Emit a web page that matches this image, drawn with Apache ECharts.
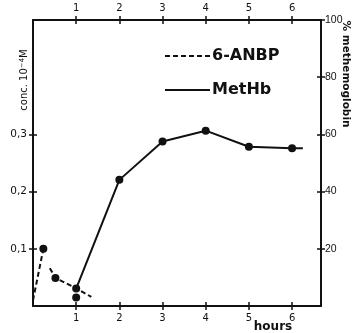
<!DOCTYPE html>
<html>
<head>
<meta charset="utf-8">
<script src="https://cdn.jsdelivr.net/npm/echarts@6/dist/echarts.min.js"></script>
<style>
html,body{margin:0;padding:0;background:#fff;}
#c{width:353px;height:333px;}
</style>
</head>
<body>
<div id="c"></div>
<script>
// ---- data ----
const hourTicks = [1, 2, 3, 4, 5, 6];
const concTicks = [0.1, 0.2, 0.3];
const pctTicks = [20, 40, 60, 80, 100];
// 6-ANBP concentration (10^-4 M), dashed
const anbpRiseHours = [0.0, 0.24];
const anbpRiseConc = [0.01, 0.1];
const anbpDecayHours = [0.39, 0.52, 1.0, 1.35];
const anbpDecayConc = [0.066, 0.049, 0.031, 0.016];
const anbpPointHours = [1.0];
const anbpPointConc = [0.015];
// MetHb (% methemoglobin), solid
const methbHours = [1, 2, 3, 4, 5, 6, 6.25];
const methbPct = [6.1, 44.1, 57.5, 61.3, 55.7, 55.2, 55.2];

const ink = '#111';
const font = 'DejaVu Sans';
const narrow = 'Liberation Sans';
const X_MAX = 6.67;

function pairs(xs, ys, marked) {
  return xs.map((x, i) => ({value: [x, ys[i]], symbol: marked(i) ? 'circle' : 'none'}));
}

function xAx(pos, inside, labels) {
  return {
    type: 'value', position: pos, min: 0, max: X_MAX,
    axisLine: {show: !inside, onZero: false, lineStyle: {color: ink, width: 2}},
    axisTick: {show: true, inside: inside, length: 4, customValues: hourTicks, lineStyle: {color: ink, width: 1.5}},
    axisLabel: {show: labels, customValues: hourTicks, margin: 7, color: ink, fontFamily: font, fontSize: 10},
    splitLine: {show: false}
  };
}
function yAx(pos, inside, labels, max, ticks, fmt, margin, fam) {
  return {
    type: 'value', position: pos, min: 0, max: max,
    axisLine: {show: !inside, onZero: false, lineStyle: {color: ink, width: 2}},
    axisTick: {show: true, inside: inside, length: 4, customValues: ticks, lineStyle: {color: ink, width: 1.5}},
    axisLabel: {show: labels, customValues: ticks, margin: margin, color: ink, fontFamily: fam, fontSize: 10.5, formatter: fmt},
    splitLine: {show: false}
  };
}

const dashIcon = 'path://M0,0h5v2h-5zM8,0h5v2h-5zM16,0h5v2h-5zM24,0h5v2h-5zM32,0h5v2h-5zM40,0h5v2h-5z';
const solidIcon = 'path://M0,0h45v2h-45z';

const chart = echarts.init(document.getElementById('c'), null, {renderer: 'canvas'});
chart.setOption({
  animation: false,
  backgroundColor: '#fff',
  grid: {left: 33, right: 32, top: 20, bottom: 27},
  xAxis: [
    xAx('bottom', false, true),
    xAx('bottom', true, false),
    xAx('top', false, true),
    xAx('top', true, false)
  ],
  yAxis: [
    yAx('left', false, true, 0.5, concTicks, v => String(v).replace('.', ','), 6, font),
    yAx('left', true, false, 0.5, concTicks, null, 6, font),
    yAx('right', false, true, 100, pctTicks, null, 4, narrow),
    yAx('right', true, false, 100, pctTicks, null, 4, narrow)
  ],
  legend: {
    orient: 'vertical', left: 165, top: 48, padding: 0, itemGap: 18,
    itemWidth: 45, itemHeight: 2, selectedMode: false,
    textStyle: {color: ink, fontFamily: font, fontSize: 16, fontWeight: 'bold', padding: [0, 0, 0, -3]},
    data: [
      {name: '6-ANBP', icon: dashIcon},
      {name: 'MetHb', icon: solidIcon}
    ]
  },
  series: [
    {
      name: '6-ANBP', type: 'line', xAxisIndex: 0, yAxisIndex: 0,
      data: pairs(anbpRiseHours, anbpRiseConc, i => i === 1),
      symbolSize: 8, itemStyle: {color: ink, opacity: 1},
      lineStyle: {color: ink, width: 2, type: [5, 3]}
    },
    {
      name: '6-ANBP', type: 'line', xAxisIndex: 0, yAxisIndex: 0,
      data: pairs(anbpDecayHours, anbpDecayConc, i => i === 1),
      symbolSize: 8, itemStyle: {color: ink, opacity: 1},
      lineStyle: {color: ink, width: 2, type: [5, 3]}
    },
    {
      name: '6-ANBP', type: 'scatter', xAxisIndex: 0, yAxisIndex: 0,
      data: anbpPointHours.map((x, i) => [x, anbpPointConc[i]]),
      symbolSize: 8, itemStyle: {color: ink, opacity: 1}
    },
    {
      name: 'MetHb', type: 'line', xAxisIndex: 0, yAxisIndex: 2,
      data: pairs(methbHours, methbPct, i => i < methbHours.length - 1),
      symbolSize: 8, itemStyle: {color: ink, opacity: 1},
      lineStyle: {color: ink, width: 2}
    }
  ],
  graphic: [
    {
      type: 'text', x: 24, y: 80, rotation: Math.PI / 2,
      style: {
        text: '{a|conc. 10}{s|−4}{a|M}',
        align: 'center', verticalAlign: 'middle',
        rich: {
          a: {fontFamily: font, fontSize: 10, fill: ink},
          s: {fontFamily: font, fontSize: 7, fill: ink, verticalAlign: 'top', padding: [0, 0, 4, 0]}
        }
      }
    },
    {
      type: 'text', x: 346, y: 74, rotation: -Math.PI / 2,
      style: {text: '% methemoglobin', align: 'center', verticalAlign: 'middle', fontFamily: font, fontSize: 10.5, fontWeight: 'bold', fill: ink}
    },
    {
      type: 'text', x: 273, y: 327,
      style: {text: 'hours', align: 'center', verticalAlign: 'middle', fontFamily: font, fontSize: 12, fontWeight: 'bold', fill: ink}
    }
  ]
});
</script>
</body>
</html>
